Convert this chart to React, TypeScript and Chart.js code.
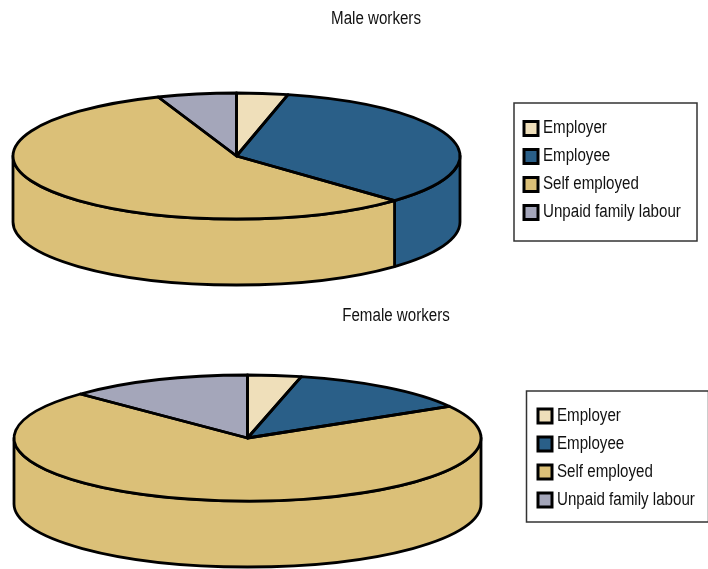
import React, { useEffect, useRef } from "react";
import { Chart, registerables } from "chart.js";

Chart.register(...registerables);

const categories = ["Employer", "Employee", "Self employed", "Unpaid family labour"];
const maleValues = [3.7, 33.8, 56.8, 5.7];
const femaleValues = [3.7, 12.9, 70.7, 12.7];
const colors = ["#EFDFBA", "#2A5F88", "#DBC078", "#A4A6BA"];
const FONT = '"Liberation Sans", sans-serif';
const TEXT_SQUEEZE = 0.84;
const LEGEND_TEXT_SHIFT = 4;

type Geo = {
  cx: number; cy: number; rx: number; ry: number; depth: number;
  titleX: number; legendX: number; legendY: number;
  box: [number, number, number, number];
};

const LINE = 2.8;

const piePlugin = {
  id: "flatPie",
  afterLayout(chart: any, _a: any, o: any) {
    const g: Geo = o.geo;
    const t = chart.titleBlock;
    if (t) { const w = t.right - t.left; t.left = g.titleX - w / 2; t.right = g.titleX + w / 2; }
    const l = chart.legend;
    if (l) {
      const w = l.width, h = l.height;
      l.left = g.legendX; l.right = g.legendX + w; l.top = g.legendY; l.bottom = g.legendY + h;
    }
  },
  beforeDraw(chart: any, _a: any, o: any) {
    const [x, y, w, h] = (o.geo as Geo).box;
    const c = chart.ctx;
    c.save(); c.strokeStyle = "#333"; c.lineWidth = 1.5; c.strokeRect(x, y, w, h); c.restore();
  },
  beforeDatasetsDraw(chart: any, _a: any, o: any) {
    const g: Geo = o.geo;
    const c = chart.ctx;
    const arcs = chart.getDatasetMeta(0).data;
    c.save();
    c.lineWidth = LINE; c.strokeStyle = "#000"; c.lineJoin = "round";
    arcs.forEach((el: any, i: number) => {
      const s = Math.max(el.startAngle, 0), e = Math.min(el.endAngle, Math.PI);
      if (e <= s) return;
      c.beginPath();
      c.ellipse(g.cx, g.cy, g.rx, g.ry, 0, s, e);
      c.ellipse(g.cx, g.cy + g.depth, g.rx, g.ry, 0, e, s, true);
      c.closePath();
      c.fillStyle = colors[i];
      c.fill(); c.stroke();
    });
    c.restore();
    const el0 = arcs[0];
    c.save();
    c.translate(g.cx, g.cy);
    c.scale(g.rx / el0.outerRadius, g.ry / el0.outerRadius);
    c.translate(-el0.x, -el0.y);
  },
  afterDatasetsDraw(chart: any, _a: any, o: any) {
    const g: Geo = o.geo;
    const c = chart.ctx;
    c.restore();
    c.save();
    c.lineWidth = LINE; c.strokeStyle = "#000"; c.lineJoin = "round";
    chart.getDatasetMeta(0).data.forEach((el: any) => {
      c.beginPath();
      c.moveTo(g.cx, g.cy);
      c.lineTo(g.cx + g.rx * Math.cos(el.startAngle), g.cy + g.ry * Math.sin(el.startAngle));
      c.ellipse(g.cx, g.cy, g.rx, g.ry, 0, el.startAngle, el.endAngle);
      c.closePath();
      c.stroke();
    });
    c.restore();
  },
};

function squeezeText(ctx: any) {
  if (ctx.__squeezed) return;
  ctx.__squeezed = true;
  const orig = ctx.fillText.bind(ctx);
  ctx.fillText = (text: string, x: number, y: number) => {
    const shift = ctx.textAlign === "left" ? LEGEND_TEXT_SHIFT : 0;
    ctx.save();
    ctx.translate(x - shift, y);
    ctx.scale(TEXT_SQUEEZE, 1);
    orig(text, 0, 0);
    ctx.restore();
  };
}

function Pie({ title, values, top, height, geo }: { title: string; values: number[]; top: number; height: number; geo: Geo }) {
  const ref = useRef<HTMLCanvasElement>(null);
  useEffect(() => {
    squeezeText(ref.current!.getContext("2d"));
    const chart = new Chart(ref.current!, {
      type: "pie",
      data: {
        labels: categories,
        datasets: [{ data: values, backgroundColor: colors, borderWidth: 0, clip: false } as any],
      },
      options: {
        animation: false,
        responsive: false,
        plugins: {
          title: { display: true, text: title, color: "#111", font: { family: FONT, size: 18, weight: "normal" }, padding: { top: 8, bottom: 6 } },
          tooltip: { enabled: false },
          legend: {
            position: "right",
            align: "start",
            labels: {
              boxWidth: 14,
              boxHeight: 14,
              padding: 10,
              color: "#111",
              font: { family: FONT, size: 18 },
              generateLabels: (c: any) =>
                (Chart as any).overrides.pie.plugins.legend.labels.generateLabels(c).map((it: any) => ({
                  ...it, strokeStyle: "#000", lineWidth: 3,
                })),
            },
          },
          flatPie: { geo },
        } as any,
      },
      plugins: [piePlugin as any],
    });
    return () => chart.destroy();
  }, []);
  return <canvas ref={ref} width={708} height={height} style={{ position: "absolute", left: 0, top, display: "block" }} />;
}

export default function App() {
  return (
    <div style={{ position: "fixed", left: 0, top: 0, width: 708, height: 569, background: "#fff", overflow: "hidden" }}>
      <Pie title="Male workers" values={maleValues} top={0} height={300}
        geo={{ cx: 236.5, cy: 156, rx: 223.5, ry: 63, depth: 66, titleX: 376, legendX: 514, legendY: 109.5, box: [514, 103, 183, 138] }} />
      <Pie title="Female workers" values={femaleValues} top={297} height={272}
        geo={{ cx: 247.5, cy: 141, rx: 233.5, ry: 63, depth: 66, titleX: 396, legendX: 528, legendY: 100, box: [526.5, 94, 182, 131] }} />
    </div>
  );
}
